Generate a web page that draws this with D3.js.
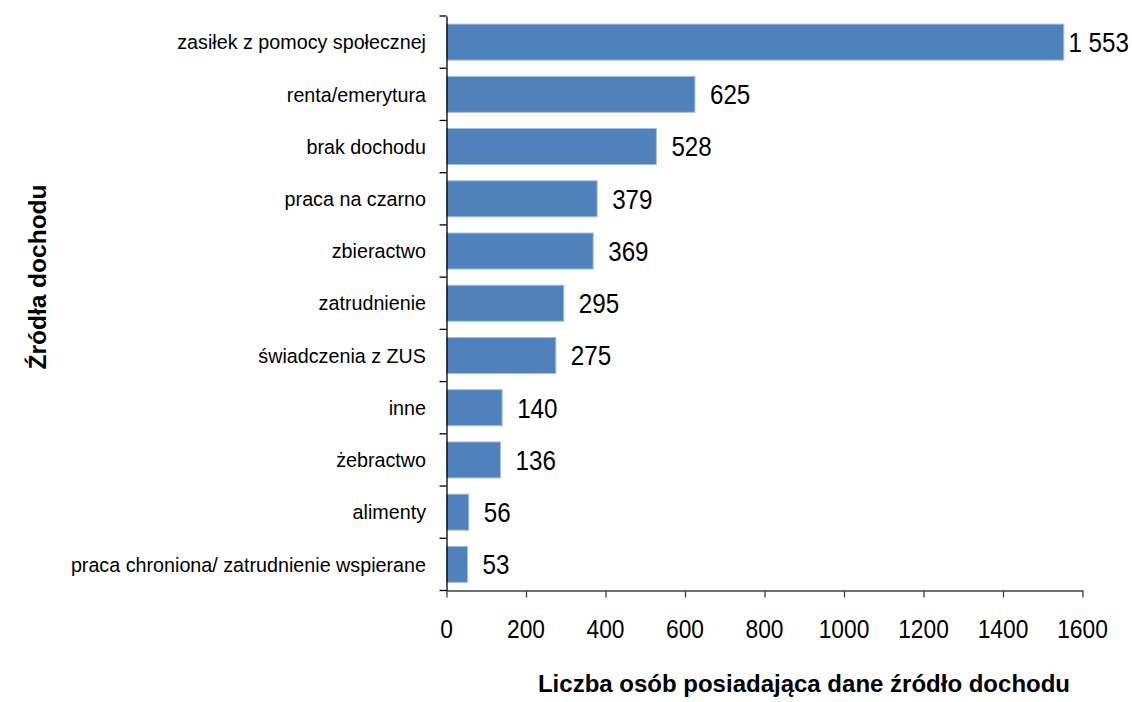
<!DOCTYPE html>
<html><head><meta charset="utf-8">
<script src="https://cdn.jsdelivr.net/npm/d3@7"></script>
<style>body{margin:0;background:#fff}</style>
</head><body>
<script>
const categories = ["zasiłek z pomocy społecznej","renta/emerytura","brak dochodu","praca na czarno","zbieractwo","zatrudnienie","świadczenia z ZUS","inne","żebractwo","alimenty","praca chroniona/ zatrudnienie wspierane"];
const values = [1553,625,528,379,369,295,275,140,136,56,53];
const valueLabels = ["1 553","625","528","379","369","295","275","140","136","56","53"];
const xTicks = [0,200,400,600,800,1000,1200,1400,1600];

const W=1132,H=702;
const font = "Arial,'Liberation Sans',sans-serif";
const svg=d3.select("body").append("svg").attr("width",W).attr("height",H);
const x=d3.scaleLinear().domain([0,1600]).range([446.5,1082.5]);
const y=d3.scaleBand().domain(categories).range([16,590.5]).paddingInner(0.31).paddingOuter(0.155);

svg.selectAll("rect.bar").data(values).join("rect")
  .attr("x",x(0)).attr("y",(d,i)=>y(categories[i]))
  .attr("width",d=>x(d)-x(0)).attr("height",y.bandwidth())
  .attr("fill","#4F81BD").attr("stroke","#A7C0DE").attr("stroke-width",1);

// x axis
const xa=svg.append("g").attr("transform","translate(0,590.5)")
  .call(d3.axisBottom(x).tickValues(xTicks).tickFormat(()=>"").tickSize(7).tickSizeOuter(0));
xa.select(".domain").attr("stroke","#404040").attr("stroke-width",1.3);
xa.selectAll(".tick line").attr("stroke","#404040").attr("stroke-width",1.3);
svg.append("g").selectAll("text").data(xTicks).join("text")
  .attr("transform",d=>`translate(${x(d)},637.5) scale(0.86,1)`)
  .attr("text-anchor","middle").attr("font-family",font).attr("font-size",26.5).attr("fill","#000")
  .text(d=>d3.format("d")(d));

// y axis
const ya=svg.append("g").attr("transform","translate(446.5,0)")
  .call(d3.axisLeft(y).tickSize(0).tickSizeOuter(0).tickFormat(()=>""));
ya.select(".domain").attr("stroke","#000").attr("stroke-width",1.3);
const bounds=d3.range(categories.length+1).map(i=>16+i*(574.5/categories.length));
svg.append("g").selectAll("line").data(bounds).join("line")
  .attr("x1",439.5).attr("x2",446.5).attr("y1",d=>d).attr("y2",d=>d)
  .attr("stroke","#000").attr("stroke-width",1.3);
svg.append("g").selectAll("text").data(categories).join("text")
  .attr("transform",d=>`translate(426,${y(d)+y.bandwidth()/2}) scale(0.962,1)`)
  .attr("dy","0.35em").attr("text-anchor","end").attr("font-family",font).attr("font-size",20.5).attr("fill","#000")
  .text(d=>d);

// value labels
const vs=0.88, vf=27.5;
const vl=svg.append("g").selectAll("text").data(values).join("text")
  .attr("font-family",font).attr("font-size",vf).attr("fill","#000").attr("dy","0.36em")
  .text((d,i)=>valueLabels[i]);
vl.attr("transform",function(d,i){
  const w=this.getComputedTextLength()*vs;
  const px=Math.min(x(d)+15, W-3-w);
  return `translate(${px},${y(categories[i])+y.bandwidth()/2}) scale(${vs},1)`;
});

svg.append("text").attr("x",804).attr("y",692).attr("text-anchor","middle")
  .attr("font-family",font).attr("font-weight","bold").attr("font-size",24)
  .text("Liczba osób posiadająca dane źródło dochodu");
svg.append("text").attr("transform","translate(46,277) rotate(-90)").attr("text-anchor","middle")
  .attr("font-family",font).attr("font-weight","bold").attr("font-size",24.5)
  .text("Źródła dochodu");
</script>
</body></html>
